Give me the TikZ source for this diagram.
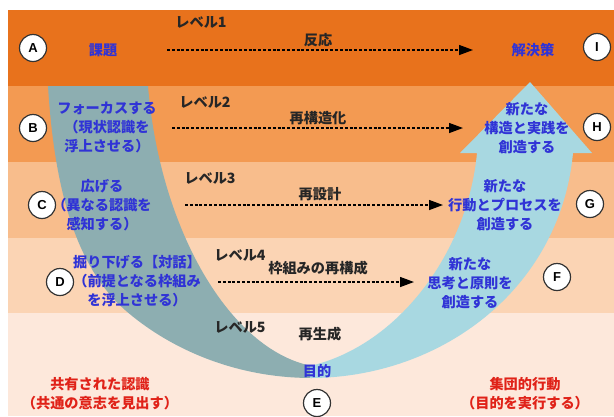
\documentclass[tikz,border=0pt]{standalone}
\usepackage{fontspec}
\setmainfont{Noto Sans CJK JP}
\newfontfamily\latinsans{Liberation Sans}
\usetikzlibrary{arrows.meta}
\definecolor{bandA}{HTML}{E8721C}
\definecolor{bandB}{HTML}{F39A52}
\definecolor{bandC}{HTML}{F8BD8C}
\definecolor{bandD}{HTML}{FBD4B4}
\definecolor{bandE}{HTML}{FDE8DB}
\definecolor{teal}{HTML}{8DAEB1}
\definecolor{lblue}{HTML}{A8D8E1}
\definecolor{txtblue}{HTML}{3033D6}
\definecolor{txtred}{HTML}{E02218}
\definecolor{circ}{HTML}{333333}
\tikzset{
  jp/.style={font=\fontsize{14.2}{19}\selectfont\bfseries, align=center, inner sep=0pt},
  bluetxt/.style={jp, text=txtblue},
  redtxt/.style={jp, text=txtred},
  blktxt/.style={jp, text=black!85},
  letter/.style={circle, draw=circ, line width=1.2pt, fill=white, minimum size=27pt, inner sep=0pt, font=\latinsans\bfseries\fontsize{13}{13}\selectfont},
  dasharrow/.style={dash pattern=on 3pt off 1.8pt, line width=1.3pt, -{Triangle[length=14pt,width=10pt]}}
}
\begin{document}
\begin{tikzpicture}[x=1pt,y=-1pt]
\useasboundingbox (0,0) rectangle (614,416);
\fill[white] (0,0) rectangle (614,416);
% bands
\fill[bandA] (8,10) rectangle (614,86);
\fill[bandB] (8,86) rectangle (614,162);
\fill[bandC] (8,162) rectangle (614,238);
\fill[bandD] (8,238) rectangle (614,313);
\fill[bandE] (8,313) rectangle (614,416);
% U arrow: left arm
\fill[teal] (48,86) -- (148,86) .. controls (160,230) and (230,350) .. (312,366)
  -- (312,378) .. controls (230,378) and (165,345) .. (125,310)
  .. controls (80,270) and (55,200) .. (48,86) -- cycle;
% right arm with head
\fill[lblue] (310,366) .. controls (400,345) and (468,250) .. (477,153)
  -- (460,153) -- (530,82) -- (592,153) -- (573,153)
  .. controls (560,290) and (440,378) .. (310,378) -- cycle;
% circles
\node[letter] (A) at (33,48) {A};
\node[letter] (B) at (33,128) {B};
\node[letter] (C) at (42,205) {C};
\node[letter] (D) at (60,282) {D};
\node[letter] (E) at (317,403) {E};
\node[letter] (F) at (557,277) {F};
\node[letter] (G) at (590,204) {G};
\node[letter] (H) at (597,127) {H};
\node[letter] (I) at (597,47) {I};
% left texts
\node[bluetxt] (ta) at (103,50) {課題};
\node[bluetxt] (tb) at (107,127) {フォーカスする\\（現状認識を\\浮上させる）};
\node[bluetxt] (tc) at (102,205) {広げる\\（異なる認識を\\感知する）};
\node[bluetxt] (td) at (137,281) {掘り下げる【対話】\\（前提となる枠組み\\を浮上させる）};
% right texts
\node[bluetxt] (ti) at (533,50) {解決策};
\node[bluetxt] (th) at (527,128) {新たな\\構造と実践を\\創造する};
\node[bluetxt] (tg) at (505,205) {新たな\\行動とプロセスを\\創造する};
\node[bluetxt] (tf) at (470,283) {新たな\\思考と原則を\\創造する};
% levels
\node[blktxt] (l1) at (201,22) {レベル1};
\node[blktxt] (l2) at (205,102) {レベル2};
\node[blktxt] (l3) at (210,178) {レベル3};
\node[blktxt] (l4) at (240,255) {レベル4};
\node[blktxt] (l5) at (240,327) {レベル5};
\node[blktxt] (r1) at (318,40) {反応};
\node[blktxt] (r2) at (318,118) {再構造化};
\node[blktxt] (r3) at (320,194) {再設計};
\node[blktxt] (r4) at (318,268) {枠組みの再構成};
\node[blktxt] (r5) at (320,334) {再生成};
\node[bluetxt] (goal) at (317,371) {目的};
\node[redtxt] (sh) at (100,394) {共有された認識\\（共通の意志を見出す）};
\node[redtxt] (co) at (525,394) {集団的行動\\（目的を実行する）};
% dashed arrows
\coordinate (a1s) at (167,50); \coordinate (a1e) at (473,50);
\coordinate (a2s) at (172,128); \coordinate (a2e) at (463,128);
\coordinate (a3s) at (185,205); \coordinate (a3e) at (443,205);
\coordinate (a4s) at (218,282); \coordinate (a4e) at (414,282);
\draw[dasharrow] (a1s) -- (a1e);
\draw[dasharrow] (a2s) -- (a2e);
\draw[dasharrow] (a3s) -- (a3e);
\draw[dasharrow] (a4s) -- (a4e);
\end{tikzpicture}
\end{document}
